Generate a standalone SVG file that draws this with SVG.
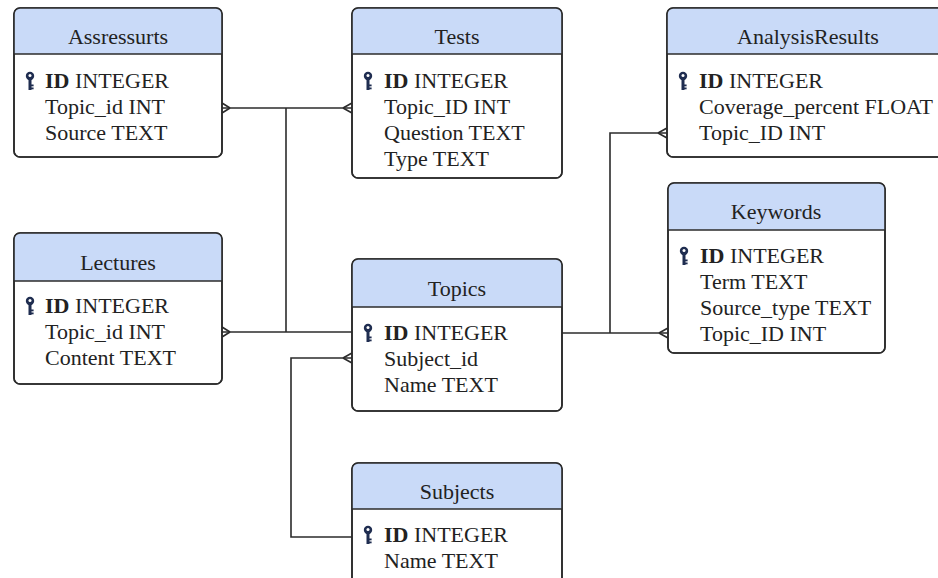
<svg xmlns="http://www.w3.org/2000/svg" width="938" height="578" viewBox="0 0 938 578" font-family="Liberation Serif, Times New Roman, serif" font-size="22">
<style>
.box{fill:#ffffff;stroke:#2b2b2b;stroke-width:1.6}
.outline{fill:none;stroke:#2b2b2b;stroke-width:1.6}
.hdr{fill:#c9daf8}
.div{stroke:#2b2b2b;stroke-width:1.6}
text{fill:#222222}
.title{text-anchor:middle}
.pk{font-weight:bold}
.conn path{fill:none;stroke:#2b2b2b;stroke-width:1.6}
</style>
<defs>
<g id="key">
<circle cx="0" cy="0" r="4.2" fill="#1f2d50"/>
<circle cx="0" cy="-0.6" r="1.5" fill="#ffffff"/>
<rect x="-1.5" y="3" width="3" height="11" fill="#1f2d50"/>
<rect x="1" y="8.5" width="2.6" height="1.8" fill="#1f2d50"/>
<rect x="1" y="11.5" width="2.6" height="1.8" fill="#1f2d50"/>
</g>
</defs>
<rect width="938" height="578" fill="#ffffff"/>

<g class="conn">
<path d="M222,108 H352"/>
<path d="M286,108 V332"/>
<path d="M222,332 H352"/>
<path d="M352,358 H291 V537 H352"/>
<path d="M562,333 H668"/>
<path d="M610,333 V133 H667"/>
<path d="M230,108 L222,103 M230,108 L222,113"/>
<path d="M343,108 L352,103 M343,108 L352,113"/>
<path d="M230,332 L222,327 M230,332 L222,337"/>
<path d="M343,358 L352,353 M343,358 L352,363"/>
<path d="M658,133 L667,128 M658,133 L667,138"/>
<path d="M659,333 L668,328 M659,333 L668,338"/>
</g>

<g id="assressurts">
<rect class="box" x="14" y="8" width="208" height="149" rx="6"/>
<path class="hdr" d="M14,54 V14 A6,6 0 0 1 20,8 H216 A6,6 0 0 1 222,14 V54 Z"/>
<line class="div" x1="14" y1="54" x2="222" y2="54"/>
<rect class="outline" x="14" y="8" width="208" height="149" rx="6"/>
<text class="title" x="118" y="44">Assressurts</text>
<use href="#key" x="30" y="76"/>
<text x="45" y="88"><tspan class="pk">ID</tspan> INTEGER</text>
<text x="45" y="114">Topic_id INT</text>
<text x="45" y="140">Source TEXT</text>
</g>

<g id="tests">
<rect class="box" x="352" y="8" width="210" height="170" rx="6"/>
<path class="hdr" d="M352,54 V14 A6,6 0 0 1 358,8 H556 A6,6 0 0 1 562,14 V54 Z"/>
<line class="div" x1="352" y1="54" x2="562" y2="54"/>
<rect class="outline" x="352" y="8" width="210" height="170" rx="6"/>
<text class="title" x="457" y="44">Tests</text>
<use href="#key" x="368" y="76"/>
<text x="384" y="88"><tspan class="pk">ID</tspan> INTEGER</text>
<text x="384" y="114">Topic_ID INT</text>
<text x="384" y="140">Question TEXT</text>
<text x="384" y="166">Type TEXT</text>
</g>

<g id="analysisresults">
<rect class="box" x="667" y="8" width="282" height="149" rx="6"/>
<path class="hdr" d="M667,54 V14 A6,6 0 0 1 673,8 H943 A6,6 0 0 1 949,14 V54 Z"/>
<line class="div" x1="667" y1="54" x2="949" y2="54"/>
<rect class="outline" x="667" y="8" width="282" height="149" rx="6"/>
<text class="title" x="808" y="44">AnalysisResults</text>
<use href="#key" x="683" y="76"/>
<text x="699" y="88"><tspan class="pk">ID</tspan> INTEGER</text>
<text x="699" y="114">Coverage_percent FLOAT</text>
<text x="699" y="140">Topic_ID INT</text>
</g>

<g id="keywords">
<rect class="box" x="668" y="183" width="217" height="170" rx="6"/>
<path class="hdr" d="M668,230 V189 A6,6 0 0 1 674,183 H879 A6,6 0 0 1 885,189 V230 Z"/>
<line class="div" x1="668" y1="230" x2="885" y2="230"/>
<rect class="outline" x="668" y="183" width="217" height="170" rx="6"/>
<text class="title" x="776" y="219">Keywords</text>
<use href="#key" x="684" y="251"/>
<text x="700" y="263"><tspan class="pk">ID</tspan> INTEGER</text>
<text x="700" y="289">Term TEXT</text>
<text x="700" y="315">Source_type TEXT</text>
<text x="700" y="341">Topic_ID INT</text>
</g>

<g id="lectures">
<rect class="box" x="14" y="233" width="208" height="151" rx="6"/>
<path class="hdr" d="M14,281 V239 A6,6 0 0 1 20,233 H216 A6,6 0 0 1 222,239 V281 Z"/>
<line class="div" x1="14" y1="281" x2="222" y2="281"/>
<rect class="outline" x="14" y="233" width="208" height="151" rx="6"/>
<text class="title" x="118" y="270">Lectures</text>
<use href="#key" x="30" y="301"/>
<text x="45" y="313"><tspan class="pk">ID</tspan> INTEGER</text>
<text x="45" y="339">Topic_id INT</text>
<text x="45" y="365">Content TEXT</text>
</g>

<g id="topics">
<rect class="box" x="352" y="259" width="210" height="152" rx="6"/>
<path class="hdr" d="M352,307 V265 A6,6 0 0 1 358,259 H556 A6,6 0 0 1 562,265 V307 Z"/>
<line class="div" x1="352" y1="307" x2="562" y2="307"/>
<rect class="outline" x="352" y="259" width="210" height="152" rx="6"/>
<text class="title" x="457" y="296">Topics</text>
<use href="#key" x="368" y="328"/>
<text x="384" y="340"><tspan class="pk">ID</tspan> INTEGER</text>
<text x="384" y="366">Subject_id</text>
<text x="384" y="392">Name TEXT</text>
</g>

<g id="subjects">
<rect class="box" x="352" y="463" width="210" height="150" rx="6"/>
<path class="hdr" d="M352,509 V469 A6,6 0 0 1 358,463 H556 A6,6 0 0 1 562,469 V509 Z"/>
<line class="div" x1="352" y1="509" x2="562" y2="509"/>
<rect class="outline" x="352" y="463" width="210" height="150" rx="6"/>
<text class="title" x="457" y="499">Subjects</text>
<use href="#key" x="368" y="530"/>
<text x="384" y="542"><tspan class="pk">ID</tspan> INTEGER</text>
<text x="384" y="568">Name TEXT</text>
</g>
</svg>
